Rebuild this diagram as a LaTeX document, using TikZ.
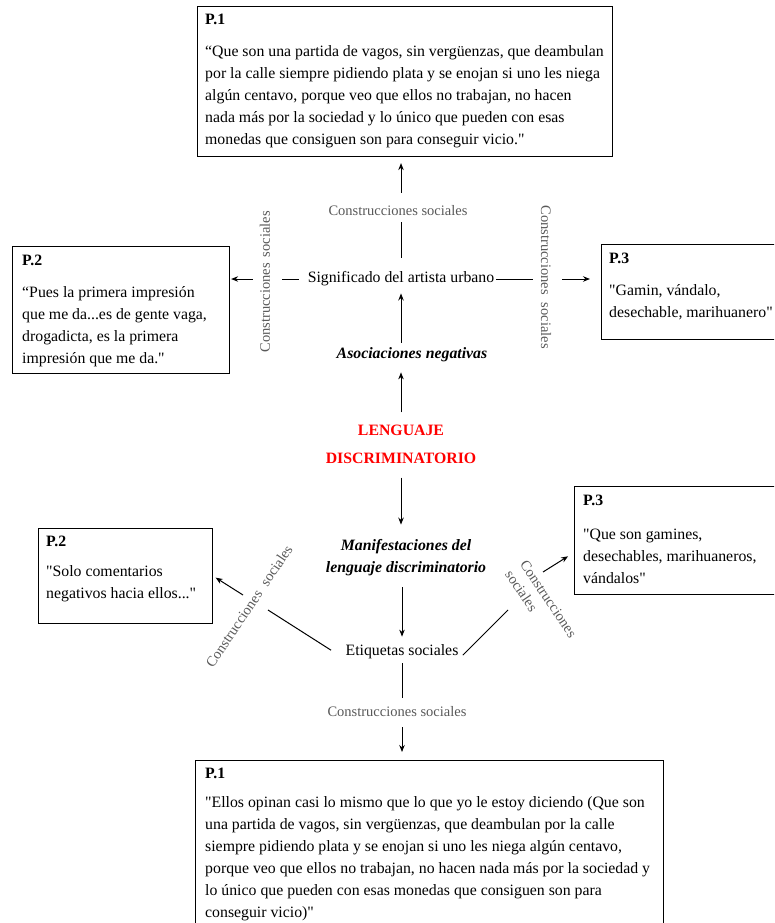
\documentclass[tikz,border=0pt]{standalone}
\usepackage{fontspec}
\setmainfont{Liberation Serif}[Ligatures=TeXOff]
\usetikzlibrary{arrows.meta}
\newcommand{\textonorm}{\fontsize{15.8}{22}\selectfont}
\newcommand{\textogris}{\fontsize{14.5}{18}\selectfont}

\begin{document}
\begin{tikzpicture}[x=1pt,y=-1pt,
  caja/.style={draw, line width=1.1pt, anchor=north west, inner sep=0pt},
  cita/.style={anchor=north west, align=left, inner sep=0pt, font=\textonorm},
  central/.style={align=center, inner sep=0pt, font=\textonorm},
  gris/.style={text=black!65, inner sep=0pt, font=\textogris},
  linea/.style={line width=1pt},
  flecha/.style={line width=1pt, -{Stealth[length=7pt,width=5.5pt]}}]
  \useasboundingbox (0,0) rectangle (774,923);
  \clip (0,0) rectangle (774,923);

  % cajas de arriba
  \node[caja, minimum width=415pt, minimum height=150pt] (p1t) at (197,6) {};
  \node[cita] (t1t) at ([shift={(8,8)}]p1t.north west) {\textbf{P.1}\\[10pt]
    “Que son una partida de vagos, sin vergüenzas, que deambulan\\
    por la calle siempre pidiendo plata y se enojan si uno les niega\\
    algún centavo, porque veo que ellos no trabajan, no hacen\\
    nada más por la sociedad y lo único que pueden con esas\\
    monedas que consiguen son para conseguir vicio."};
  \node[caja, minimum width=217pt, minimum height=127pt] (p2l) at (12,246) {};
  \node[cita] (t2l) at ([shift={(10,9)}]p2l.north west) {\textbf{P.2}\\[10pt]
    “Pues la primera impresión\\
    que me da...es de gente vaga,\\
    drogadicta, es la primera\\
    impresión que me da."};
  \node[caja, minimum width=200pt, minimum height=95pt] (p3r) at (601,244) {};
  \node[cita] (t3r) at ([shift={(8,9)}]p3r.north west) {\textbf{P.3}\\[10pt]
    "Gamin, vándalo,\\
    desechable, marihuanero"};

  % cajas de abajo
  \node[caja, minimum width=174pt, minimum height=95pt] (p2b) at (38,528) {};
  \node[cita] (t2b) at ([shift={(8,8)}]p2b.north west) {\textbf{P.2}\\[8pt]
    "Solo comentarios\\
    negativos hacia ellos..."};
  \node[caja, minimum width=226pt, minimum height=108pt] (p3b) at (574,486) {};
  \node[cita] (t3b) at ([shift={(9,9)}]p3b.north west) {\textbf{P.3}\\[12pt]
    "Que son gamines,\\
    desechables, marihuaneros,\\
    vándalos"};
  \node[caja, minimum width=468pt, minimum height=200pt] (p1b) at (195,760) {};
  \node[cita] (t1b) at ([shift={(10,8)}]p1b.north west) {\textbf{P.1}\\[7pt]
    "Ellos opinan casi lo mismo que lo que yo le estoy diciendo (Que son\\
    una partida de vagos, sin vergüenzas, que deambulan por la calle\\
    siempre pidiendo plata y se enojan si uno les niega algún centavo,\\
    porque veo que ellos no trabajan, no hacen nada más por la sociedad y\\
    lo único que pueden con esas monedas que consiguen son para\\
    conseguir vicio)"};

  % centro
  \node[central] (sig) at (401,279) {Significado del artista urbano};
  \node[central, font=\textonorm\bfseries\itshape] (asoc) at (412,355) {Asociaciones negativas};
  \node[central, text=red, font=\fontsize{15.8}{28}\selectfont\bfseries] (leng) at (401,444) {LENGUAJE\\DISCRIMINATORIO};
  \node[central, font=\textonorm\bfseries\itshape] (manif) at (406,558) {Manifestaciones del\\lenguaje discriminatorio};
  \node[central] (etq) at (402,652) {Etiquetas sociales};

  % construcciones sociales
  \node[gris] (conT) at (398,211) {Construcciones sociales};
  \node[gris] (conB) at (397,712) {Construcciones sociales};
  \node[gris, rotate=90] (conL) at (265,282) {Construcciones\hspace{6pt}sociales};
  \node[gris, rotate=-90] (conR) at (546,277) {Construcciones\hspace{8pt}sociales};
  \node[gris, rotate=56] (conSW) at (249,606) {Construcciones\hspace{8pt}sociales};
  \node[gris, rotate=-56, align=left] (conSE) at (541,604) {Construcciones\\sociales};

  % extremos libres de las diagonales
  \coordinate (swA) at (268,610);
  \coordinate (swB) at (243,595);
  \coordinate (seA) at (508,610);
  \coordinate (seB) at (543,572);

  % conectores
  \draw[flecha, shorten <=12pt, shorten >=10pt] (leng.north) -- (leng.north |- asoc.south);
  \draw[flecha, shorten <=5pt, shorten >=7pt] (sig.south |- asoc.north) -- (sig.south);
  \draw[linea, shorten <=14pt, shorten >=6pt] (sig.north) -- (sig.north |- conT.south);
  \draw[flecha, shorten <=13pt, shorten >=6pt] (sig.north |- conT.north) -- (sig.north |- p1t.south);
  \draw[linea, shorten <=9pt, shorten >=12pt] (sig.west) -- (sig.west -| conL.south);
  \draw[flecha, shorten <=7pt, shorten >=1pt] (sig.west -| conL.north) -- (sig.west -| p2l.east);
  \draw[linea, shorten <=2pt, shorten >=8pt] (sig.east) -- (sig.east -| conR.south);
  \draw[flecha, shorten <=11pt, shorten >=11pt] (sig.east -| conR.north) -- (sig.east -| p3r.west);
  \draw[flecha, shorten <=14pt, shorten >=15pt] (leng.south) -- (leng.south |- manif.north);
  \draw[flecha, shorten <=11pt, shorten >=8pt] (etq.north |- manif.south) -- (etq.north);
  \draw[linea, shorten <=4pt, shorten >=9pt] (etq.south) -- (etq.south |- conB.north);
  \draw[flecha, shorten <=10pt, shorten >=8pt] (etq.south |- conB.south) -- (etq.south |- p1b.north);
  \draw[linea, shorten <=17pt] (etq.south west) -- (swA);
  \draw[flecha, shorten >=3pt] (swB) -- (p2b.east);
  \draw[linea, shorten <=6pt] (etq.south east) -- (seA);
  \draw[flecha, shorten >=7pt] (seB) -- ([yshift=-12pt]p3b.west);
\end{tikzpicture}
\end{document}
